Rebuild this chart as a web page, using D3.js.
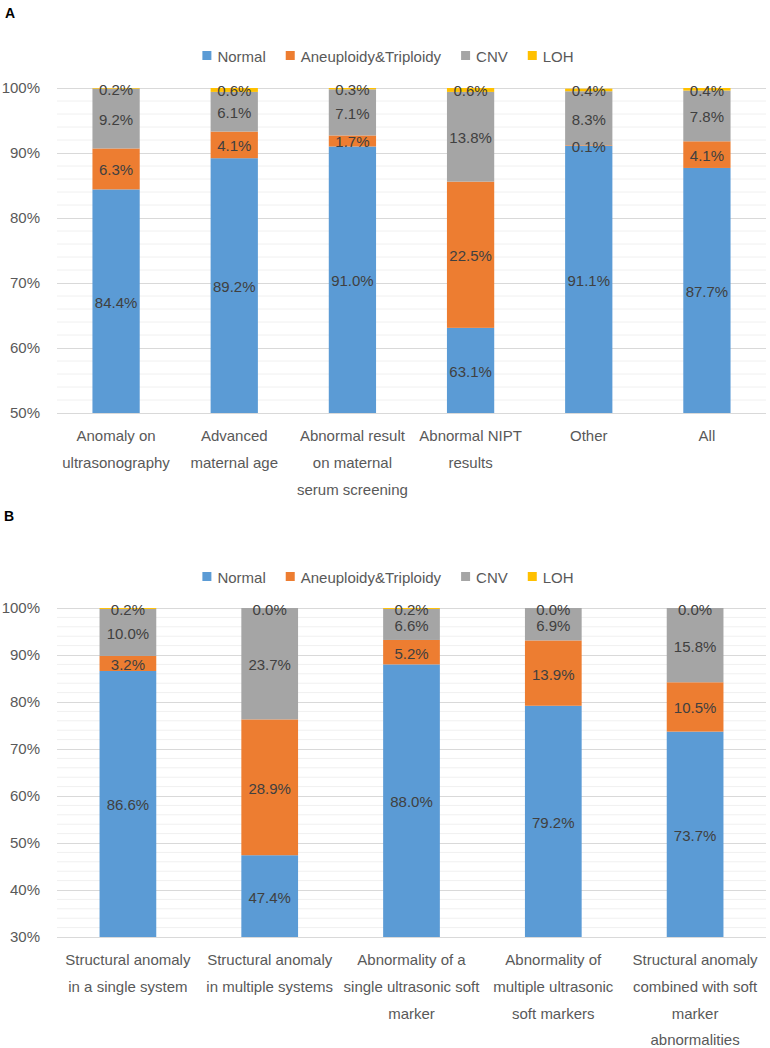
<!DOCTYPE html>
<html>
<head>
<meta charset="utf-8">
<script src="https://cdn.jsdelivr.net/npm/d3@7"></script>
<style>
  body { margin: 0; background: #fff; }
  svg { display: block; font-family: "Liberation Sans", Arial, sans-serif; }
</style>
</head>
<body>
<svg id="chart" width="770" height="1048"></svg>
<script>
// series keys and legend names
const seriesKeys = ['normal', 'aneu', 'cnv', 'loh'];
const seriesNames = ['Normal', 'Aneuploidy&Triploidy', 'CNV', 'LOH'];
const seriesColors = ['#5B9BD5', '#ED7D31', '#A5A5A5', '#FFC000'];

// panel A
const catsA = ['Anomaly on\nultrasonography', 'Advanced\nmaternal age', 'Abnormal result\non maternal\nserum screening', 'Abnormal NIPT\nresults', 'Other', 'All'];
const normalA = [84.4, 89.2, 91.0, 63.1, 91.1, 87.7];
const aneuA = [6.3, 4.1, 1.7, 22.5, 0.1, 4.1];
const cnvA = [9.2, 6.1, 7.1, 13.8, 8.3, 7.8];
const lohA = [0.2, 0.6, 0.3, 0.6, 0.4, 0.4];
const ticksA = [50, 60, 70, 80, 90, 100];

// panel B
const catsB = ['Structural anomaly\nin a single system', 'Structural anomaly\nin multiple systems', 'Abnormality of a\nsingle ultrasonic soft\nmarker', 'Abnormality of\nmultiple ultrasonic\nsoft markers', 'Structural anomaly\ncombined with soft\nmarker\nabnormalities'];
const normalB = [86.6, 47.4, 88.0, 79.2, 73.7];
const aneuB = [3.2, 28.9, 5.2, 13.9, 10.5];
const cnvB = [10.0, 23.7, 6.6, 6.9, 15.8];
const lohB = [0.2, 0.0, 0.2, 0.0, 0.0];
const ticksB = [30, 40, 50, 60, 70, 80, 90, 100];

const svg = d3.select('#chart');

function drawPanel(opts) {
    const g = svg.append('g');
    const rows = opts.cats.map((c, i) => ({
        cat: c,
        normal: opts.normal[i],
        aneu: opts.aneu[i],
        cnv: opts.cnv[i],
        loh: opts.loh[i]
    }));

    const x = d3.scaleBand()
        .domain(opts.cats)
        .range([57, 766])
        .paddingInner(0.6)
        .paddingOuter(0.3);
    const y = d3.scaleLinear()
        .domain([opts.ticks[0], 100])
        .range([opts.bottom, opts.top])
        .clamp(true);

    // minor gridlines every 2%
    const minor = d3.range(opts.ticks[0], 100, 2).filter(v => v % 10 !== 0);
    g.append('g').selectAll('line')
        .data(minor)
        .enter().append('line')
        .attr('x1', 57).attr('x2', 766)
        .attr('y1', d => y(d)).attr('y2', d => y(d))
        .attr('stroke', '#F0F0F0').attr('stroke-width', 1);

    // major gridlines + tick labels
    const yAxis = d3.axisLeft(y)
        .tickValues(opts.ticks)
        .tickSize(-(766 - 57))
        .tickPadding(17)
        .tickFormat(d => d + '%');
    const ya = g.append('g')
        .attr('transform', 'translate(57,0)')
        .call(yAxis);
    ya.select('.domain').remove();
    ya.selectAll('line').attr('stroke', '#D9D9D9');
    ya.selectAll('text')
        .attr('fill', '#595959')
        .style('font-size', '15px');

    // stacked bars
    const stack = d3.stack().keys(seriesKeys)(rows);
    const layer = g.append('g').selectAll('g')
        .data(stack)
        .enter().append('g')
        .attr('fill', (d, i) => seriesColors[i]);

    layer.selectAll('rect')
        .data(d => d)
        .enter().append('rect')
        .attr('x', d => x(d.data.cat))
        .attr('width', x.bandwidth())
        .attr('y', d => y(d[1]))
        .attr('height', d => Math.max(0, y(d[0]) - y(d[1])));

    // data labels
    const labels = g.append('g');
    stack.forEach(s => {
        s.forEach(d => {
            labels.append('text')
                .attr('x', x(d.data.cat) + x.bandwidth() / 2)
                .attr('y', (y(d[0]) + y(d[1])) / 2 + 1)
                .attr('text-anchor', 'middle')
                .attr('dominant-baseline', 'central')
                .attr('fill', '#404040')
                .style('font-size', '15px')
                .text(d.data[s.key].toFixed(1) + '%');
        });
    });

    // category labels
    const catG = g.append('g');
    opts.cats.forEach(c => {
        const lines = c.split('\n');
        const t = catG.append('text')
            .attr('text-anchor', 'middle')
            .attr('fill', '#595959')
            .style('font-size', '15px');
        lines.forEach((ln, i) => {
            t.append('tspan')
                .attr('x', x(c) + x.bandwidth() / 2)
                .attr('y', opts.bottom + 28 + i * 26.8)
                .text(ln);
        });
    });

    // legend
    const leg = g.append('g');
    const items = [];
    let cx = 0;
    seriesNames.forEach((name, i) => {
        const it = leg.append('g');
        it.append('rect')
            .attr('x', 0).attr('y', -5)
            .attr('width', 9).attr('height', 9)
            .attr('fill', seriesColors[i]);
        const tx = it.append('text')
            .attr('x', 15).attr('y', 0)
            .attr('dominant-baseline', 'central')
            .attr('fill', '#595959')
            .style('font-size', '15px')
            .text(name);
        const w = 15 + tx.node().getComputedTextLength();
        it.attr('transform', `translate(${cx},${opts.legendY})`);
        cx += w + 20;
    });
    const total = cx - 20;
    leg.attr('transform', `translate(${388 - total / 2},0)`);

    // panel letter
    svg.append('text')
        .attr('x', opts.letterX).attr('y', opts.letterY)
        .attr('font-weight', 'bold')
        .attr('fill', '#000')
        .style('font-size', '14px')
        .text(opts.letter);
}

drawPanel({
    cats: catsA, normal: normalA, aneu: aneuA, cnv: cnvA, loh: lohA,
    ticks: ticksA, top: 88, bottom: 413, legendY: 56,
    letter: 'A', letterX: 5, letterY: 18
});

drawPanel({
    cats: catsB, normal: normalB, aneu: aneuB, cnv: cnvB, loh: lohB,
    ticks: ticksB, top: 608, bottom: 937, legendY: 577,
    letter: 'B', letterX: 4, letterY: 521
});
</script>
</body>
</html>
